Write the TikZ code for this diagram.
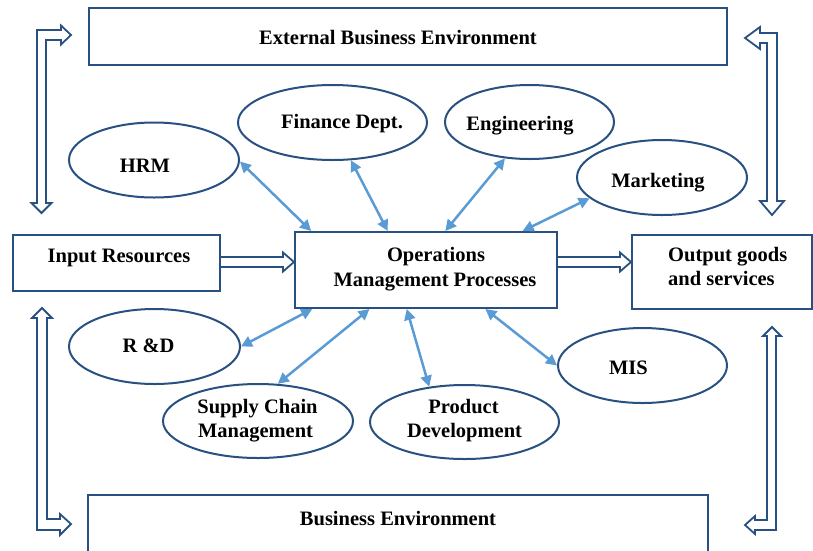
\documentclass[tikz,border=0pt]{standalone}
\usepackage{fontspec}
\setmainfont{Liberation Serif}
\usetikzlibrary{shapes.geometric,arrows.meta,calc}
\definecolor{navy}{RGB}{40,80,128}
\definecolor{sky}{RGB}{91,155,213}
\tikzset{
  box/.style={draw=navy,line width=2pt,rectangle,inner sep=0pt},
  unit/.style={draw=navy,line width=2pt,ellipse,inner sep=0pt},
  lbl/.style={font=\fontsize{20.5}{24.5}\selectfont\bfseries,inner sep=0pt,anchor=base},
  link/.style={sky,line width=2.5pt,{Triangle[length=11pt,width=11pt]}-{Triangle[length=11pt,width=11pt]}},
  hollow/.style={draw=navy,line width=1.8pt,line join=miter,fill=white},
}
\begin{document}
\begin{tikzpicture}[x=1pt,y=-1pt]
        \useasboundingbox (0,0) rectangle (813,550);
        \clip (0,0) rectangle (813,550);
        %% Boxes
        \node[box,minimum width=638,minimum height=57] (ext) at (408,36.5) {};
        \node[box,minimum width=207,minimum height=56] (input) at (116.5,263) {};
        \node[box,minimum width=262,minimum height=76] (ops) at (426,270) {};
        \node[box,minimum width=180,minimum height=74] (out) at (722,272) {};
        \node[box,minimum width=620,minimum height=70] (env) at (398,530) {};
        %% Functions
        \node[unit,minimum width=170,minimum height=75] (hrm) at (154,160) {};
        \node[unit,minimum width=189,minimum height=75] (fin) at (332.5,122.5) {};
        \node[unit,minimum width=169,minimum height=74] (eng) at (529.5,122) {};
        \node[unit,minimum width=170,minimum height=75] (mkt) at (662,177.5) {};
        \node[unit,minimum width=171,minimum height=75] (rnd) at (154.5,346.5) {};
        \node[unit,minimum width=190,minimum height=74] (scm) at (258,421) {};
        \node[unit,minimum width=189,minimum height=74] (pd) at (464.5,422) {};
        \node[unit,minimum width=169,minimum height=75] (mis) at (642.5,365.5) {};
        %% Labels
        \node[lbl] (exttext) at (398,44) {External Business Environment};
        \node[lbl] (inputtext) at (119,262) {Input Resources};
        \node[lbl] (opstext1) at (436,261) {Operations};
        \node[lbl] (opstext2) at (435,286) {Management Processes};
        \node[lbl,anchor=base west] (outtext1) at (668,261) {Output goods};
        \node[lbl,anchor=base west] (outtext2) at (668,285) {and services};
        \node[lbl] (envtext) at (398,525) {Business Environment};
        \node[lbl] (hrmtext) at (145,172) {HRM};
        \node[lbl] (fintext) at (342,128) {Finance Dept.};
        \node[lbl] (engtext) at (520,130) {Engineering};
        \node[lbl] (mkttext) at (658,187) {Marketing};
        \node[lbl] (rndtext) at (148.5,352) {R \&D};
        \node[lbl] (scmtext1) at (257.5,413) {Supply Chain};
        \node[lbl] (scmtext2) at (255.5,437) {Management};
        \node[lbl] (pdtext1) at (463.5,413) {Product};
        \node[lbl] (pdtext2) at (464.5,437) {Development};
        \node[lbl] (mistext) at (628.5,374) {MIS};
        %% Links to the operations box
        \draw[link] (hrm.-1) -- ($(ops.north west)!0.065!(ops.north east)$);
        \draw[link] (fin.-64) -- ($(ops.north west)!0.355!(ops.north east)$);
        \draw[link] (eng.-124) -- ($(ops.north west)!0.573!(ops.north east)$);
        \draw[link] (mkt.-164) -- ($(ops.north west)!0.866!(ops.north east)$);
        \draw[link] (rnd.0) -- ($(ops.south west)!0.069!(ops.south east)$);
        \draw[link] (scm.62) -- ($(ops.south west)!0.286!(ops.south east)$);
        \draw[link] (pd.135) -- ($(ops.south west)!0.427!(ops.south east)$);
        \draw[link] (mis.180) -- ($(ops.south west)!0.725!(ops.south east)$);
        %% Flow arrows
        \coordinate (inS) at (input.east |- 0,262);
        \coordinate (inT) at (ops.west |- 0,262);
        \draw[hollow] ($(inS)+(0,-5)$) -- ($(inT)+(-11,-5)$) -- ($(inT)+(-11,-9.5)$) -- (inT)
            -- ($(inT)+(-11,9.5)$) -- ($(inT)+(-11,5)$) -- ($(inS)+(0,5)$);
        \coordinate (outS) at (ops.east |- 0,262);
        \coordinate (outT) at (out.west |- 0,262);
        \draw[hollow] ($(outS)+(0,-5)$) -- ($(outT)+(-11,-5)$) -- ($(outT)+(-11,-9.5)$) -- (outT)
            -- ($(outT)+(-11,9.5)$) -- ($(outT)+(-11,5)$) -- ($(outS)+(0,5)$);
        %% Environment arrows
        \draw[hollow] (37,203) -- (37,30) -- (61,30) -- (61,25.5) -- (71,35) -- (61,44.5) -- (61,40)
            -- (46,40) -- (46,203) -- (51.5,203) -- (41.5,213) -- (31.5,203) -- cycle;
        \draw[hollow] (777,201) -- (777,33) -- (760,33) -- (760,27) -- (745,38) -- (760,49) -- (760,43)
            -- (767,43) -- (767,201) -- (760,201) -- (772,215) -- (784,201) -- cycle;
        \draw[hollow] (37,318) -- (37,530) -- (60,530) -- (60,535) -- (71,524) -- (60,514) -- (60,519)
            -- (47,519) -- (47,318) -- (52,318) -- (42,308) -- (32,318) -- cycle;
        \draw[hollow] (776,336) -- (776,530) -- (755,530) -- (755,534) -- (745,525) -- (755,516) -- (755,520)
            -- (767,520) -- (767,336) -- (763,336) -- (772,327) -- (781,336) -- cycle;
\end{tikzpicture}
\end{document}
